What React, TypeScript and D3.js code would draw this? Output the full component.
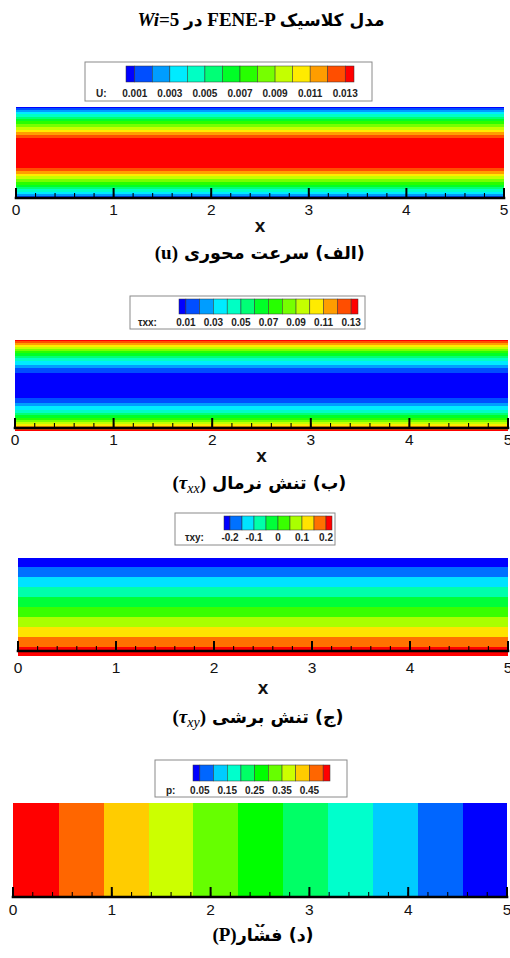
import React from 'react';
import * as d3 from 'd3';

const W = 510;
const H = 958;

const SANS = "'Liberation Sans', Arial, sans-serif";
const SERIF = "'Liberation Serif', 'Times New Roman', serif";
const FA = "'DejaVu Sans', sans-serif";
const RLM = '\u200F';

// shared x axis (channel length)
const xDomain = [0, 5];
const xMajorTicks = [0, 1, 2, 3, 4, 5];

// (a) axial velocity u : contour levels, legend labels, profile across the channel
const uLevels = [0.001, 0.002, 0.003, 0.004, 0.005, 0.006, 0.007, 0.008, 0.009, 0.01, 0.011, 0.012, 0.013];
const uLegendTicks = [0.001, 0.003, 0.005, 0.007, 0.009, 0.011, 0.013];
const uEta = [0, 0.03, 0.07, 0.11, 0.16, 0.21, 0.26, 0.31, 0.37, 0.43, 0.49, 0.55, 0.61, 0.67, 1]; // distance from wall / half height
const uVal = [0, 0.001, 0.002, 0.003, 0.004, 0.005, 0.006, 0.007, 0.008, 0.009, 0.01, 0.011, 0.012, 0.013, 0.0138];

// (b) normal stress tau_xx
const txxLevels = [0.01, 0.02, 0.03, 0.04, 0.05, 0.06, 0.07, 0.08, 0.09, 0.1, 0.11, 0.12, 0.13];
const txxLegendTicks = [0.01, 0.03, 0.05, 0.07, 0.09, 0.11, 0.13];
const txxEta = [0, 0.03, 0.07, 0.11, 0.155, 0.2, 0.24, 0.29, 0.35, 0.4, 0.47, 0.54, 0.62, 0.73, 1];
const txxVal = [0.14, 0.13, 0.12, 0.11, 0.1, 0.09, 0.08, 0.07, 0.06, 0.05, 0.04, 0.03, 0.02, 0.01, 0];

// (c) shear stress tau_xy
const txyLevels = [-0.2, -0.15, -0.1, -0.05, 0, 0.05, 0.1, 0.15, 0.2];
const txyLegendTicks = [-0.2, -0.1, 0, 0.1, 0.2];
const txyPos = [0, 0.5, 1]; // fraction of channel height from the top wall
const txyVal = [-0.245, 0, 0.245];

// (d) pressure p along the channel
const pLevels = [0.05, 0.1, 0.15, 0.2, 0.25, 0.3, 0.35, 0.4, 0.45, 0.5];
const pLegendTicks = [0.05, 0.15, 0.25, 0.35, 0.45];
const pX = [0, 5];
const pVal = [0.551, 0.0005];

function rainbow(n: number): string[] {
  return d3.range(n).map((i) => d3.hsl(240 - (240 * i) / (n - 1), 1, 0.5).formatHex());
}

type Seg = [number, number, string];

function mergeRuns(start: number, end: number, colorAt: (p: number) => string): Seg[] {
  const segs: Seg[] = [];
  let s = start;
  let c = colorAt(start + 0.5);
  for (let p = start + 1; p < end; p++) {
    const cc = colorAt(p + 0.5);
    if (cc !== c) {
      segs.push([s, p, c]);
      s = p;
      c = cc;
    }
  }
  segs.push([s, end, c]);
  return segs;
}

interface PanelProps {
  x0: number;
  x1: number;
  top: number;
  bottom: number;
  axisY: number;
  orient: 'rows' | 'cols';
  value: (t: number) => number; // rows: fraction from top; cols: data x
  levels: number[];
  tickY: number;
  xLabelY: number;
  legend: {
    bx: number; by: number; bw: number; bh: number;
    cx: number; cy: number; cw: number; ch: number;
    name: string; nameX: number; textY: number; fs: number;
    ticks: number[];
  };
}

function Panel(p: PanelProps) {
  const colors = rainbow(p.levels.length + 1);
  const color = d3.scaleThreshold<number, string>().domain(p.levels).range(colors);
  const xs = d3.scaleLinear().domain(xDomain).range([p.x0, p.x1]);
  let segs: Seg[];
  if (p.orient === 'rows') {
    const fy = d3.scaleLinear().domain([p.top, p.bottom]).range([0, 1]);
    segs = mergeRuns(p.top, p.bottom, (px) => color(p.value(fy(px))));
  } else {
    segs = mergeRuns(p.x0, p.x1, (px) => color(p.value(xs.invert(px))));
  }
  const minor = xs.ticks(25);
  const L = p.legend;
  const n = p.levels.length;
  const cellW = L.cw / n;
  const ls = d3.scaleLinear().domain([p.levels[0], p.levels[n - 1]]).range([L.cx + cellW / 2, L.cx + L.cw - cellW / 2]);
  const edges = [L.cx, ...p.levels.map((v) => ls(v)), L.cx + L.cw];
  return (
    <g>
      <g shapeRendering="crispEdges">
        {segs.map(([a, b, c], i) =>
          p.orient === 'rows' ? (
            <rect key={i} x={p.x0} y={a} width={p.x1 - p.x0} height={b - a} fill={c} />
          ) : (
            <rect key={i} x={a} y={p.top} width={b - a} height={p.bottom - p.top} fill={c} />
          )
        )}
      </g>
      {/* axis */}
      <line x1={p.x0} x2={p.x1} y1={p.axisY} y2={p.axisY} stroke="#000" strokeWidth={2.6} strokeLinecap="square" />
      {minor.map((t, i) => (
        <line key={'m' + i} x1={xs(t)} x2={xs(t)} y1={p.axisY} y2={p.axisY - 5} stroke="#000" strokeWidth={1.1} />
      ))}
      {xMajorTicks.map((t) => (
        <line key={'M' + t} x1={xs(t)} x2={xs(t)} y1={p.axisY} y2={p.axisY - 10} stroke="#000" strokeWidth={2} />
      ))}
      {xMajorTicks.map((t) => (
        <text key={'l' + t} x={xs(t)} y={p.tickY} textAnchor="middle" fontFamily={SANS} fontSize={15.5} fill="#111">
          {String(t)}
        </text>
      ))}
      <text x={(p.x0 + p.x1) / 2} y={p.xLabelY} textAnchor="middle" fontFamily={SANS} fontWeight="bold" fontSize={19} fill="#111">
        x
      </text>
      {/* legend */}
      <rect x={L.bx} y={L.by} width={L.bw} height={L.bh} fill="#fff" stroke="#8a8a8a" strokeWidth={1} />
      {colors.map((c, i) => (
        <rect key={'c' + i} x={edges[i]} y={L.cy} width={edges[i + 1] - edges[i]} height={L.ch} fill={c} stroke="#333" strokeWidth={0.5} />
      ))}
      <text x={L.nameX} y={L.textY} fontFamily={SANS} fontWeight="bold" fontSize={L.fs} fill="#222">
        {L.name}
      </text>
      {L.ticks.map((t) => (
        <text key={'t' + t} x={ls(t)} y={L.textY} textAnchor="middle" fontFamily={SANS} fontWeight="bold" fontSize={L.fs} fill="#222">
          {String(t)}
        </text>
      ))}
    </g>
  );
}

const uScale = d3.scaleLinear().domain(uEta).range(uVal).clamp(true);
const txxScale = d3.scaleLinear().domain(txxEta).range(txxVal).clamp(true);
const txyScale = d3.scaleLinear().domain(txyPos).range(txyVal).clamp(true);
const pScale = d3.scaleLinear().domain(pX).range(pVal).clamp(true);

function Caption({ x, y, math, sub, italic, fa }: { x: number; y: number; math: string; sub?: string; italic?: boolean; fa: string }) {
  return (
    <g>
      <text x={x - 2} y={y} textAnchor="end" fontFamily={SERIF} fontWeight="bold" fontSize={19} fill="#000">
        {'('}
        <tspan fontStyle={italic ? 'italic' : 'normal'}>{math}</tspan>
        {sub ? (
          <tspan fontStyle="italic" fontWeight="normal" fontSize={14} dy={4}>
            {sub}
          </tspan>
        ) : null}
        <tspan dy={sub ? -4 : 0}>{')'}</tspan>
      </text>
      <text x={x + 4} y={y} textAnchor="start" fontFamily={FA} fontWeight="bold" fontSize={17.5} fill="#000">
        {RLM + fa}
      </text>
    </g>
  );
}

export default function App() {
  return (
    <svg width={W} height={H} viewBox={`0 0 ${W} ${H}`} style={{ position: 'absolute', left: 0, top: 0, background: '#fff' }}>
      <rect width={W} height={H} fill="#fff" />
      {/* title */}
      <text x={261} y={26} textAnchor="middle" fontFamily={SERIF} fontWeight="bold" fontSize={19} fill="#000">
        <tspan fontStyle="italic">Wi</tspan>
        <tspan>{'=5 '}</tspan>
        <tspan fontFamily={FA} fontSize={17}>{'در'}</tspan>
        <tspan>{' FENE-P '}</tspan>
        <tspan fontFamily={FA} fontSize={17}>{RLM + 'مدل کلاسیک'}</tspan>
      </text>

      <Panel
        x0={16} x1={504} top={107} bottom={199} axisY={198}
        orient="rows"
        value={(f) => uScale(Math.min(f, 1 - f) * 2)}
        levels={uLevels}
        tickY={215} xLabelY={232}
        legend={{ bx: 85, by: 62, bw: 287, bh: 39, cx: 126, cy: 66, cw: 228, ch: 16, name: 'U:', nameX: 96, textY: 97, fs: 10, ticks: uLegendTicks }}
      />
      <Caption x={180} y={259} math="u" fa="(الف) سرعت محوری" />

      <Panel
        x0={15} x1={508} top={340} bottom={431} axisY={428}
        orient="rows"
        value={(f) => txxScale(Math.min(f, 1 - f) * 2)}
        levels={txxLevels}
        tickY={445} xLabelY={462}
        legend={{ bx: 130, by: 296, bw: 235, bh: 33, cx: 179, cy: 299, cw: 179, ch: 15, name: 'τxx:', nameX: 138, textY: 326, fs: 10, ticks: txxLegendTicks }}
      />
      <Caption x={208} y={489} math="τ" sub="xx" italic fa="(ب) تنش نرمال" />

      <Panel
        x0={18} x1={508} top={558} bottom={656} axisY={651}
        orient="rows"
        value={(f) => txyScale(f)}
        levels={txyLevels}
        tickY={673} xLabelY={694}
        legend={{ bx: 175, by: 513, bw: 160, bh: 32, cx: 224, cy: 516, cw: 108, ch: 14, name: 'τxy:', nameX: 185, textY: 541, fs: 10, ticks: txyLegendTicks }}
      />
      <Caption x={208} y={723} math="τ" sub="xy" italic fa="(ج) تنش برشی" />

      <Panel
        x0={13} x1={507} top={803} bottom={897} axisY={897}
        orient="cols"
        value={(x) => pScale(x)}
        levels={pLevels}
        tickY={915} xLabelY={934}
        legend={{ bx: 155, by: 760, bw: 192, bh: 37, cx: 193, cy: 765, cw: 137, ch: 16, name: 'p:', nameX: 166, textY: 794, fs: 10, ticks: pLegendTicks }}
      />
      <rect x={240} y={927} width={40} height={14} fill="#fff" />
      <text x={263} y={941} textAnchor="middle" fill="#000">
        <tspan fontFamily={SERIF} fontWeight="bold" fontSize={19}>{'(P)'}</tspan>
        <tspan fontFamily={FA} fontWeight="bold" fontSize={17.5}>{RLM + '(د) فشار'}</tspan>
      </text>
    </svg>
  );
}
